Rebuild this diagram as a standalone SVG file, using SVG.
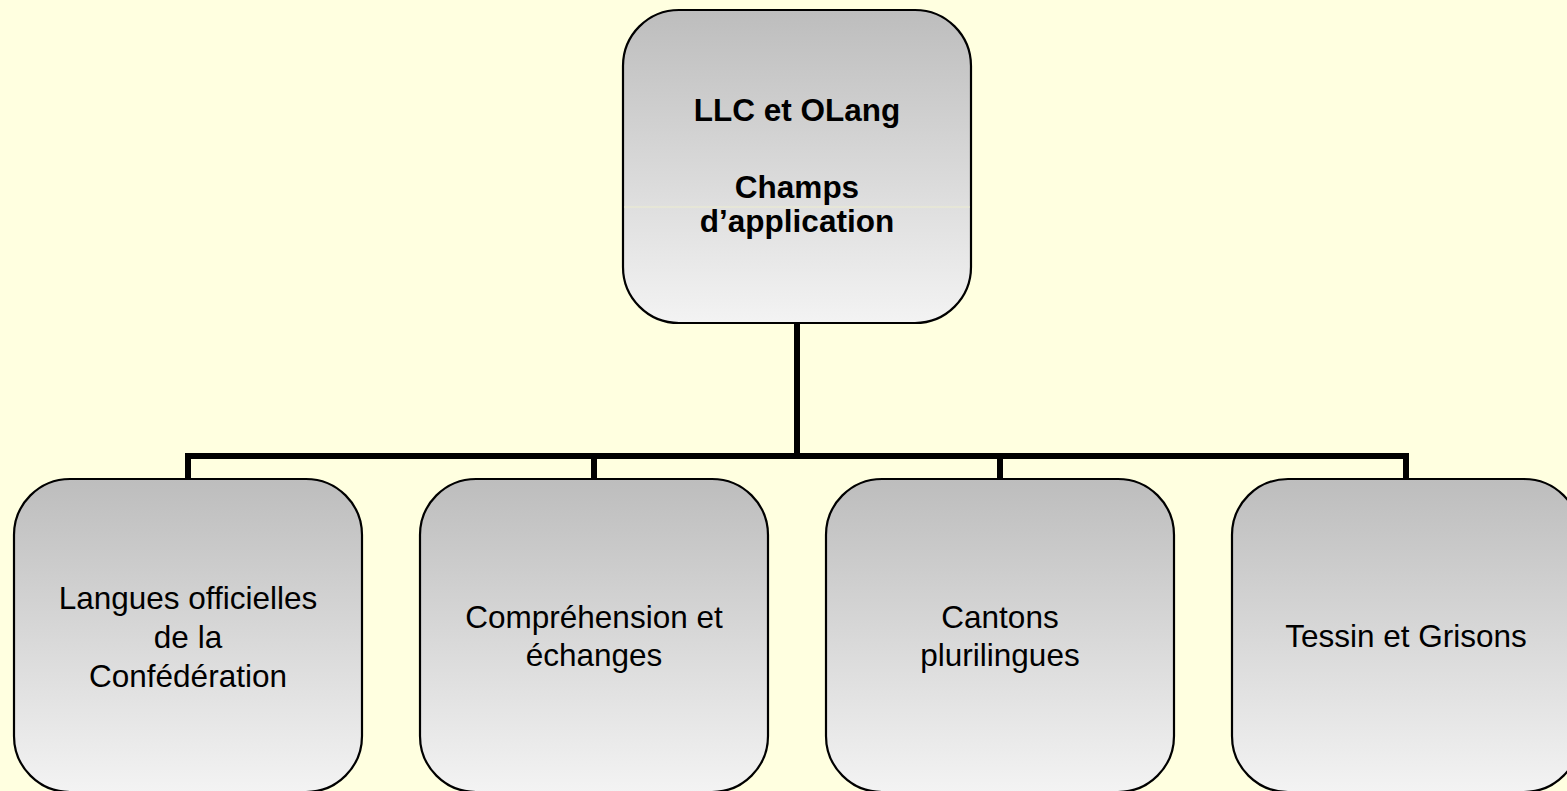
<svg xmlns="http://www.w3.org/2000/svg" width="1567" height="791" viewBox="0 0 1567 791">
<defs>
<linearGradient id="g" x1="0" y1="0" x2="0" y2="1">
<stop offset="0" stop-color="#BDBDBD"/>
<stop offset="1" stop-color="#F3F3F3"/>
</linearGradient>
</defs>
<style>
.box{fill:url(#g);stroke:#000;stroke-width:2.2}
.t{font-family:"Liberation Sans",Arial,sans-serif;font-size:31.5px;fill:#000;text-anchor:middle}
.b{font-weight:bold}
.c{fill:none;stroke:#000;stroke-width:6;stroke-linejoin:miter}
</style>
<rect width="1567" height="791" fill="#FFFFE0"/>
<g id="connectors">
<path class="c" d="M797,322 V456"/>
<path class="c" d="M188,479 V456 H1406 V479"/>
<path class="c" d="M594,456 V479"/>
<path class="c" d="M1000,456 V479"/>
</g>
<g id="root">
<rect class="box" x="623" y="10" width="348" height="313" rx="56" ry="56"/>
<line x1="624" y1="207" x2="970" y2="207" stroke="#EDEDCF" stroke-width="1"/>
<text class="t b" x="797" y="121">LLC et OLang</text>
<text class="t b" x="797" y="198">Champs</text>
<text class="t b" x="797" y="232">d’application</text>
</g>
<g id="n1">
<rect class="box" x="14" y="479" width="348" height="313" rx="56" ry="56"/>
<text class="t" x="188" y="609">Langues officielles</text>
<text class="t" x="188" y="648">de la</text>
<text class="t" x="188" y="687">Confédération</text>
</g>
<g id="n2">
<rect class="box" x="420" y="479" width="348" height="313" rx="56" ry="56"/>
<text class="t" x="594" y="628">Compréhension et</text>
<text class="t" x="594" y="666">échanges</text>
</g>
<g id="n3">
<rect class="box" x="826" y="479" width="348" height="313" rx="56" ry="56"/>
<text class="t" x="1000" y="628">Cantons</text>
<text class="t" x="1000" y="666">plurilingues</text>
</g>
<g id="n4">
<rect class="box" x="1232" y="479" width="348" height="313" rx="56" ry="56"/>
<text class="t" x="1406" y="647">Tessin et Grisons</text>
</g>
</svg>
